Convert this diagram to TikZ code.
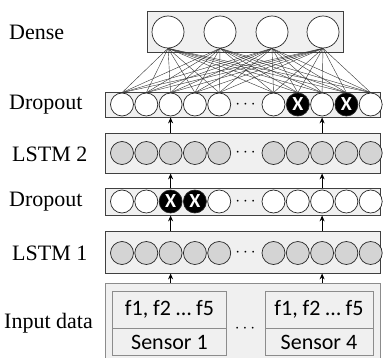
\documentclass[tikz,border=0pt]{standalone}
\usepackage{fontspec}
\setmainfont{Liberation Serif}
\setsansfont{Carlito}
\usetikzlibrary{arrows.meta}

\tikzset{
  layer/.style={draw=black!75, fill=black!6, line width=0.8pt, inner sep=0pt},
  sensorbox/.style={draw=black!45, fill=black!6, line width=0.8pt, inner sep=0pt,
    font=\sffamily\fontsize{22}{24}\selectfont},
  unit/.style={circle, draw=black!85, fill=white, inner sep=0pt, minimum size=23pt, line width=0.7pt},
  keep/.style={unit},
  cell/.style={unit, fill=black!17},
  drop/.style={unit, fill=black,
    label={[text=white, font=\sffamily\bfseries\fontsize{20}{20}\selectfont]center:X}},
  neuron/.style={unit, minimum size=32pt},
  tag/.style={anchor=west, inner sep=0pt, font=\fontsize{22}{24}\selectfont},
  link/.style={line width=0.4pt, black!80},
  up/.style={-{Stealth[length=6pt,width=5pt]}, line width=1pt},
  gap/.style={font=\fontsize{18}{18}\selectfont}
}

\begin{document}
\begin{tikzpicture}[x=1pt, y=1pt]
    \def\x{1}
    \def\y{-1}
    \useasboundingbox (0,0) rectangle (385*\x, 358*\y);

    % layer boxes
    \node[layer, minimum width=196pt, minimum height=41pt] (B0) at (245*\x, 31.5*\y) {};
    \node[layer, minimum width=275pt, minimum height=25pt] (B1) at (242.5*\x, 104.5*\y) {};
    \node[layer, minimum width=275pt, minimum height=40pt] (B2) at (242.5*\x, 153*\y) {};
    \node[layer, minimum width=275pt, minimum height=27pt] (B3) at (242.5*\x, 201.5*\y) {};
    \node[layer, minimum width=275pt, minimum height=42pt] (B4) at (242.5*\x, 252*\y) {};
    \node[layer, draw=black!45, minimum width=275pt, minimum height=90pt] (B5) at (242.5*\x, 328*\y) {};
    \coordinate (M) at (245.5*\x, 0);

    % dense units
    \foreach \i/\px in {0/168, 1/220, 2/272, 3/323}
      \node[neuron] (A0_\i) at (\px*\x, 32*\y) {};

    % dropout, lstm 2, dropout, lstm 1
    \foreach \i/\px/\s in {0/122/keep, 1/146.3/keep, 2/170.6/keep, 3/194.9/keep, 4/219.2/keep,
                           5/273.5/keep, 6/297.8/drop, 7/322.1/keep, 8/346.4/drop, 9/370.7/keep}
      \node[\s] (A1_\i) at (\px*\x, 104.5*\y) {};
    \foreach \i/\px in {0/122, 1/146.3, 2/170.6, 3/194.9, 4/219.2,
                        5/273.5, 6/297.8, 7/322.1, 8/346.4, 9/370.7}
      \node[cell] (A2_\i) at (\px*\x, 153*\y) {};
    \foreach \i/\px/\s in {0/122/keep, 1/146.3/keep, 2/170.6/drop, 3/194.9/drop, 4/219.2/keep,
                           5/273.5/keep, 6/297.8/keep, 7/322.1/keep, 8/346.4/keep, 9/370.7/keep}
      \node[\s] (A3_\i) at (\px*\x, 201.5*\y) {};
    \foreach \i/\px in {0/122, 1/146.3, 2/170.6, 3/194.9, 4/219.2,
                        5/273.5, 6/297.8, 7/322.1, 8/346.4, 9/370.7}
      \node[cell] (A4_\i) at (\px*\x, 253*\y) {};
    \foreach \r in {1,...,4}
      \node[gap] (G\r) at (M |- A\r_4) {$\cdots$};

    % fully connected
    \foreach \a in {0,...,3}
      \foreach \b in {0,...,9}
        \draw[link] (A0_\a.south) -- (A1_\b.north);

    % sensors
    \node[sensorbox, minimum width=114pt, minimum height=37pt] (S0_0) at (169.5*\x, 309.5*\y) {f1, f2 … f5};
    \node[sensorbox, minimum width=114pt, minimum height=27pt, anchor=north] (S0_1) at (S0_0.south) {Sensor 1};
    \node[sensorbox, minimum width=108pt, minimum height=37pt] (S1_0) at (319*\x, 309.5*\y) {f1, f2 … f5};
    \node[sensorbox, minimum width=108pt, minimum height=27pt, anchor=north] (S1_1) at (S1_0.south) {Sensor 4};
    \node[gap] (G5) at (245*\x, 329*\y) {$\cdots$};

    % arrows
    \foreach \c in {2,7} {
      \draw[up] (B5.north -| A4_\c) -- (B4.south -| A4_\c);
      \draw[up] (B4.north -| A4_\c) -- (B3.south -| A4_\c);
      \draw[up] (B3.north -| A4_\c) -- (B2.south -| A4_\c);
      \draw[up] (B2.north -| A4_\c) -- (B1.south -| A4_\c);
    }

    % layer names
    \node[tag] (T0) at (9*\x, 32*\y) {Dense};
    \node[tag] (T1) at (9*\x, 105*\y) {Dropout};
    \node[tag] (T2) at (12*\x, 154*\y) {LSTM 2};
    \node[tag] (T3) at (9*\x, 202*\y) {Dropout};
    \node[tag] (T4) at (12*\x, 253*\y) {LSTM 1};
    \node[tag] (T5) at (4*\x, 323*\y) {Input data};
  \end{tikzpicture}
\end{document}
